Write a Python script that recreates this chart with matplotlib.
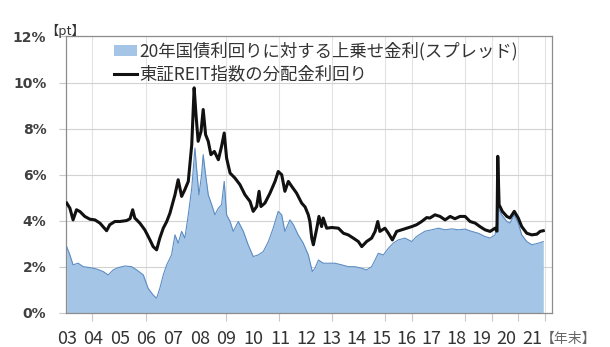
import matplotlib
matplotlib.use("Agg")
import matplotlib.pyplot as plt
from matplotlib.patches import Patch
from matplotlib.lines import Line2D

plt.rcParams["font.family"] = ["Noto Sans CJK JP", "DejaVu Sans"]

# TSE REIT index dividend yield (%)
yield_t = [
    2004.03, 2004.15, 2004.27, 2004.40, 2004.53, 2004.71, 2004.90, 2005.09, 2005.28, 2005.53,
    2005.65, 2005.84, 2006.03, 2006.28, 2006.41, 2006.51, 2006.59, 2006.78, 2006.97, 2007.16,
    2007.28, 2007.41, 2007.53, 2007.66, 2007.79, 2007.91, 2008.10, 2008.22, 2008.35, 2008.47,
    2008.60, 2008.73, 2008.82, 2008.89, 2008.97, 2009.08, 2009.16, 2009.25, 2009.35, 2009.45,
    2009.58, 2009.73, 2009.85, 2009.95, 2010.04, 2010.17, 2010.35, 2010.54, 2010.73, 2010.92,
    2011.04, 2011.17, 2011.26, 2011.33, 2011.48, 2011.67, 2011.86, 2011.98, 2012.11, 2012.23,
    2012.36, 2012.49, 2012.67, 2012.86, 2012.99, 2013.11, 2013.17, 2013.24, 2013.30, 2013.43,
    2013.51, 2013.61, 2013.67, 2013.80, 2013.99, 2014.24, 2014.43, 2014.61, 2014.80, 2014.99,
    2015.12, 2015.30, 2015.49, 2015.62, 2015.72, 2015.80, 2015.99, 2016.12, 2016.27, 2016.43,
    2016.62, 2016.81, 2017.00, 2017.18, 2017.37, 2017.56, 2017.68, 2017.87, 2018.06, 2018.25,
    2018.44, 2018.62, 2018.81, 2019.00, 2019.19, 2019.38, 2019.56, 2019.75, 2019.94, 2020.13,
    2020.20, 2020.23, 2020.28, 2020.40, 2020.57, 2020.69, 2020.85, 2021.00, 2021.13, 2021.32,
    2021.51, 2021.70, 2021.82, 2021.94,
]
yield_pct = [
    4.77, 4.55, 4.04, 4.48, 4.40, 4.19, 4.07, 4.04, 3.90, 3.57,
    3.83, 3.97, 3.97, 4.01, 4.09, 4.48, 4.12, 3.90, 3.60, 3.17,
    2.88, 2.74, 3.25, 3.68, 3.97, 4.33, 5.13, 5.78, 5.06, 5.35,
    5.71, 7.30, 9.77, 8.60, 7.45, 7.88, 8.83, 7.74, 7.45, 6.87,
    7.01, 6.65, 7.23, 7.81, 6.72, 6.07, 5.86, 5.57, 5.13, 4.84,
    4.41, 4.62, 5.28, 4.62, 4.77, 5.20, 5.71, 6.14, 6.00, 5.28,
    5.71, 5.49, 5.20, 4.77, 4.60, 4.26, 3.97, 3.25, 2.96, 3.68,
    4.19, 3.75, 4.12, 3.68, 3.71, 3.68, 3.46, 3.39, 3.25, 3.10,
    2.88, 3.10, 3.25, 3.54, 3.97, 3.54, 3.68, 3.46, 3.17, 3.54,
    3.61, 3.68, 3.75, 3.83, 3.97, 4.14, 4.12, 4.26, 4.19, 4.04,
    4.19, 4.09, 4.19, 4.19, 3.97, 3.90, 3.75, 3.61, 3.54, 3.68,
    3.55, 6.80, 4.70, 4.41, 4.19, 4.12, 4.41, 4.12, 3.75, 3.46,
    3.39, 3.42, 3.54, 3.57,
]

# spread over 20-year JGB yield (pt)
spread_t = [
    2004.03, 2004.15, 2004.27, 2004.46, 2004.65, 2004.90, 2005.15, 2005.40, 2005.59, 2005.78,
    2005.97, 2006.22, 2006.47, 2006.66, 2006.91, 2007.09, 2007.28, 2007.41, 2007.53, 2007.66,
    2007.79, 2007.97, 2008.10, 2008.22, 2008.35, 2008.47, 2008.60, 2008.73, 2008.85, 2008.91,
    2009.00, 2009.10, 2009.16, 2009.25, 2009.35, 2009.48, 2009.60, 2009.73, 2009.85, 2009.95,
    2010.04, 2010.17, 2010.29, 2010.48, 2010.67, 2010.85, 2011.04, 2011.23, 2011.42, 2011.61,
    2011.79, 2011.98, 2012.11, 2012.23, 2012.42, 2012.55, 2012.73, 2012.92, 2013.11, 2013.26,
    2013.36, 2013.49, 2013.67, 2013.86, 2014.11, 2014.36, 2014.61, 2014.86, 2015.12, 2015.30,
    2015.49, 2015.62, 2015.74, 2015.93, 2016.12, 2016.30, 2016.49, 2016.74, 2017.00, 2017.18,
    2017.37, 2017.50, 2017.75, 2018.00, 2018.25, 2018.50, 2018.75, 2019.00, 2019.25, 2019.50,
    2019.75, 2019.94, 2020.13, 2020.25, 2020.38, 2020.57, 2020.69, 2020.85, 2021.00, 2021.13,
    2021.32, 2021.51, 2021.76, 2021.94,
]
spread_pt = [
    2.88, 2.52, 2.09, 2.16, 2.01, 1.97, 1.91, 1.80, 1.65, 1.87,
    1.97, 2.04, 2.01, 1.87, 1.65, 1.07, 0.78, 0.64, 1.07, 1.65,
    2.09, 2.52, 3.39, 3.03, 3.54, 3.25, 4.26, 5.42, 7.16, 6.29,
    5.13, 6.00, 6.87, 6.00, 5.13, 4.70, 4.26, 4.55, 4.70, 5.71,
    4.26, 3.97, 3.54, 3.97, 3.54, 2.96, 2.45, 2.52, 2.67, 3.10,
    3.68, 4.41, 4.26, 3.54, 4.04, 3.83, 3.39, 3.03, 2.52, 1.80,
    1.94, 2.30, 2.16, 2.16, 2.16, 2.09, 2.01, 2.01, 1.94, 1.87,
    2.01, 2.30, 2.59, 2.52, 2.81, 3.03, 3.17, 3.25, 3.10, 3.32,
    3.46, 3.55, 3.61, 3.68, 3.61, 3.65, 3.61, 3.64, 3.54, 3.46,
    3.32, 3.25, 3.39, 4.55, 4.26, 3.97, 3.90, 4.26, 3.90, 3.39,
    3.10, 2.96, 3.03, 3.10,
]

year_labels = ["03", "04", "05", "06", "07", "08", "09", "10", "11", "12",
               "13", "14", "15", "16", "17", "18", "19", "20", "21"]
label_pos = [2004.03, 2005.02, 2006.03, 2007.03, 2008.02, 2009.04, 2010.04, 2011.03,
             2012.05, 2013.05, 2013.99, 2014.93, 2015.87, 2016.81, 2017.75, 2018.69,
             2019.63, 2020.57, 2021.52]
grid_years = [2005, 2007, 2010, 2012, 2014, 2016, 2017, 2019, 2020, 2021, 2022]

spread_name = "20年国債利回りに対する上乗せ金利(スプレッド)"
yield_name = "東証REIT指数の分配金利回り"

fill_color = "#a4c5e5"
edge_color = "#5b8cc4"
text_color = "#333333"

fig = plt.figure(figsize=(6.1, 3.47), dpi=100)
ax = fig.add_axes([0.108, 0.098, 0.797, 0.797])

ax.fill_between(spread_t, 0, spread_pt, color=fill_color, lw=0, zorder=2)
ax.plot(spread_t, spread_pt, color=edge_color, lw=0.8, zorder=3)
ax.plot(yield_t, yield_pct, color="#111111", lw=2.2, zorder=4)

ax.set_xlim(2004.0, 2022.27)
ax.set_ylim(0, 12)

# y axis
ax.set_yticks(range(0, 13, 2))
ax.set_yticklabels([f"{v}%" for v in range(0, 13, 2)],
                   family="DejaVu Sans", fontweight="bold", fontsize=10, color="#404040")
ax.tick_params(axis="y", length=5, width=0.8, color="#c8c8c8", pad=9)
ax.yaxis.grid(True, color="#d2d2d2", lw=0.8, zorder=0)

# x axis: tick marks on the grid, labels placed separately
ax.set_xticks(grid_years)
ax.set_xticklabels([])
ax.set_xticks(label_pos, minor=True)
ax.set_xticklabels(year_labels, minor=True, fontsize=13, color=text_color)
ax.tick_params(axis="x", which="major", length=6, width=0.8, color="#c8c8c8")
ax.tick_params(axis="x", which="minor", length=0, pad=12)
ax.xaxis.grid(True, which="major", color="#e2e2e2", lw=0.8, zorder=0)
ax.set_axisbelow(True)

for s in ax.spines.values():
    s.set_color("#8c8c8c")
    s.set_linewidth(0.9)

handles = [Patch(facecolor=fill_color, edgecolor="none"),
           Line2D([0], [0], color="#111111", lw=2.2)]
ax.legend(handles, [spread_name, yield_name], loc="upper left",
          bbox_to_anchor=(0.085, 1.005), frameon=False, fontsize=12.5,
          handlelength=1.3, handleheight=0.6, handletextpad=0.15,
          labelspacing=0.3, labelcolor=text_color, borderaxespad=0)

fig.text(45 / 610, 1 - 31 / 347, "【pt】", fontsize=9.5, color=text_color, va="center")
fig.text(541 / 610, 1 - 339 / 347, "【年末】", fontsize=10, color="#666666", va="center")

fig.savefig("out.png", dpi=100, facecolor="white")
